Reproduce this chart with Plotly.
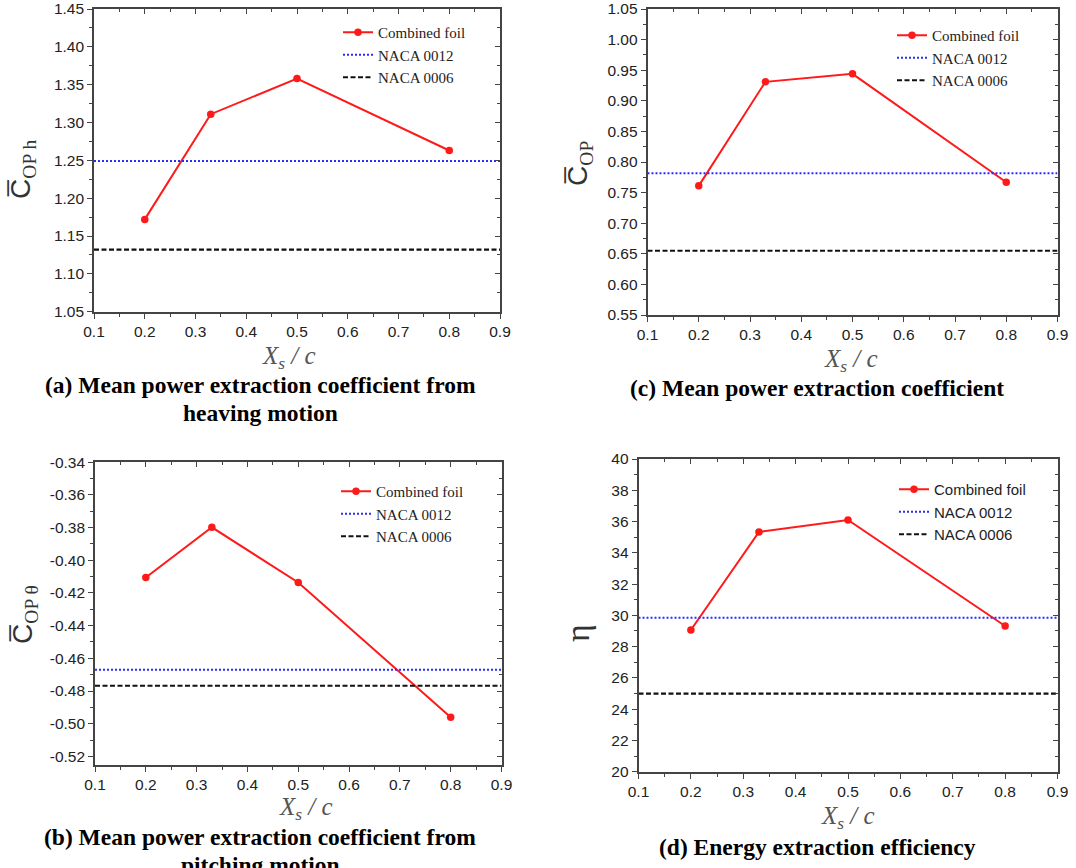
import plotly.graph_objects as go

W, H = 1076, 868

# ---------------- data ----------------
xs_c = [0.2, 0.33, 0.5, 0.8]

cop_h = [1.172, 1.311, 1.358, 1.263]
naca0012_h = 1.249
naca0006_h = 1.132

cop_theta = [-0.4105, -0.3798, -0.4136, -0.4961]
naca0012_theta = -0.467
naca0006_theta = -0.4768

cop = [0.761, 0.931, 0.944, 0.767]
naca0012_cop = 0.7815
naca0006_cop = 0.655

eta = [29.06, 35.33, 36.1, 29.32]
naca0012_eta = 29.85
naca0006_eta = 25.0

x_range = [0.1, 0.9]
x_ticks = [0.1, 0.2, 0.3, 0.4, 0.5, 0.6, 0.7, 0.8, 0.9]
theta_ticks = [-0.34, -0.36, -0.38, -0.40, -0.42, -0.44, -0.46, -0.48, -0.50, -0.52]
theta_ticklabels = ["-0.34", "-0.36", "-0.38", "-0.40", "-0.42", "-0.44",
                    "-0.46", "-0.48", "-0.50", "-0.52"]

legend_names = ["Combined foil", "NACA 0012", "NACA 0006"]

caption_lines = [
    ("(a) Mean power extraction coefficient from", 260, 385),
    ("heaving motion", 260, 413),
    ("(b) Mean power extraction coefficient from", 260, 837),
    ("pitching motion", 260, 865),
    ("(c) Mean power extraction coefficient", 817, 388),
    ("(d) Energy extraction efficiency", 817, 847),
]

# ---------------- layout helpers ----------------
def px_x(p):
    return p / W

def px_y(p):
    return 1 - p / H

AX_COLOR = "#444444"
TICK_FONT = dict(family="Liberation Sans, Arial, sans-serif", size=15.5, color="#222222")

panels = [
    dict(key="a", vals=cop_h, n12=naca0012_h, n6=naca0006_h,
         xd=(94, 500), yd=(9, 311.7), yr=[1.05, 1.45], dt=0.05, mdt=0.025, fmt=".2f",
         leg=(338, 16), legfont="Liberation Serif, Times New Roman, serif"),
    dict(key="b", vals=cop_theta, n12=naca0012_theta, n6=naca0006_theta,
         xd=(95, 501.5), yd=(462.3, 765), yr=[-0.5253, -0.34], dt=None, mdt=0.01, fmt=None,
         leg=(336, 475), legfont="Liberation Serif, Times New Roman, serif"),
    dict(key="c", vals=cop, n12=naca0012_cop, n6=naca0006_cop,
         xd=(647.5, 1057.5), yd=(9, 315), yr=[0.55, 1.05], dt=0.05, mdt=0.025, fmt=".2f",
         leg=(892, 19), legfont="Liberation Serif, Times New Roman, serif"),
    dict(key="d", vals=eta, n12=naca0012_eta, n6=naca0006_eta,
         xd=(638.5, 1057.5), yd=(459, 771.7), yr=[20, 40], dt=2, mdt=1, fmt="d",
         leg=(894, 473), legfont="Liberation Sans, Arial, sans-serif"),
]

fig = go.Figure()
layout = dict(
    width=W, height=H,
    margin=dict(l=0, r=0, t=0, b=0, autoexpand=False),
    paper_bgcolor="white", plot_bgcolor="white",
    showlegend=True,
)

annotations = []

for i, p in enumerate(panels):
    n = i + 1
    ax = "" if n == 1 else str(n)
    mx = str(n + 4)
    xref, yref = "x" + ax, "y" + ax
    legname = "legend" if n == 1 else "legend" + str(n)

    fig.add_trace(go.Scatter(
        x=xs_c, y=p["vals"], mode="lines+markers", name=legend_names[0],
        line=dict(color="#ff1a1a", width=2),
        marker=dict(color="#ff1a1a", size=7.5, symbol="circle"),
        xaxis=xref, yaxis=yref, legend=legname))
    fig.add_trace(go.Scatter(
        x=x_range, y=[p["n12"], p["n12"]], mode="lines", name=legend_names[1],
        line=dict(color="#2a2aff", width=2, dash="2px,2px"),
        xaxis=xref, yaxis=yref, legend=legname))
    fig.add_trace(go.Scatter(
        x=x_range, y=[p["n6"], p["n6"]], mode="lines", name=legend_names[2],
        line=dict(color="#111111", width=2.2, dash="5px,2.5px"),
        xaxis=xref, yaxis=yref, legend=legname))
    fig.add_trace(go.Scatter(x=[None], y=[None], xaxis="x" + mx, yaxis="y" + mx,
                             showlegend=False, hoverinfo="skip"))

    xdom = [px_x(p["xd"][0]), px_x(p["xd"][1])]
    ydom = [px_y(p["yd"][1]), px_y(p["yd"][0])]

    layout["xaxis" + ax] = dict(
        domain=xdom, anchor=yref, range=x_range, tickmode="array", tickvals=x_ticks,
        tickformat=".1f", ticks="outside", ticklen=5, tickwidth=1.3, tickcolor=AX_COLOR,
        showline=True, linecolor=AX_COLOR, linewidth=1.6, mirror=True, automargin=False,
        showgrid=False, zeroline=False, tickfont=TICK_FONT,
        minor=dict(ticks="outside", dtick=0.05, tick0=0.1, ticklen=3, tickcolor=AX_COLOR,
                   tickwidth=1.2, showgrid=False),
    )
    ya = dict(
        domain=ydom, anchor=xref, range=p["yr"], ticks="outside", ticklen=5, tickwidth=1.3,
        tickcolor=AX_COLOR, showline=True, linecolor=AX_COLOR, linewidth=1.6, mirror=True,
        showgrid=False, zeroline=False, tickfont=TICK_FONT, automargin=False,
        minor=dict(ticks="outside", dtick=p["mdt"], ticklen=3, tickcolor=AX_COLOR,
                   tickwidth=1.2, showgrid=False),
    )
    if p["dt"] is None:
        ya.update(tickmode="array", tickvals=theta_ticks, ticktext=theta_ticklabels)
        ya["minor"]["tick0"] = -0.34
    else:
        ya.update(tick0=p["yr"][0], dtick=p["dt"], tickformat=p["fmt"])
        ya["minor"]["tick0"] = p["yr"][0]
    layout["yaxis" + ax] = ya

    layout["xaxis" + mx] = dict(
        overlaying=xref, side="top", anchor="y" + mx, range=x_range,
        tickmode="array", tickvals=x_ticks, showticklabels=False, automargin=False,
        ticks="inside", ticklen=5, tickwidth=1.3, tickcolor=AX_COLOR,
        showline=False, showgrid=False, zeroline=False,
        minor=dict(ticks="inside", dtick=0.05, tick0=0.1, ticklen=3, tickcolor=AX_COLOR,
                   tickwidth=1.2, showgrid=False),
    )
    ym = dict(
        overlaying=yref, side="right", anchor="x" + mx, range=p["yr"], automargin=False,
        showticklabels=False, ticks="inside", ticklen=5, tickwidth=1.3, tickcolor=AX_COLOR,
        showline=False, showgrid=False, zeroline=False,
        minor=dict(ticks="inside", dtick=p["mdt"], ticklen=3, tickcolor=AX_COLOR,
                   tickwidth=1.2, showgrid=False),
    )
    if p["dt"] is None:
        ym.update(tickmode="array", tickvals=theta_ticks)
        ym["minor"]["tick0"] = -0.34
    else:
        ym.update(tick0=p["yr"][0], dtick=p["dt"])
        ym["minor"]["tick0"] = p["yr"][0]
    layout["yaxis" + mx] = ym

    layout[legname] = dict(
        x=px_x(p["leg"][0]), y=px_y(p["leg"][1]), xanchor="left", yanchor="top",
        bgcolor="rgba(0,0,0,0)", borderwidth=0,
        font=dict(family=p["legfont"], size=15, color="#222222"),
        tracegroupgap=0, itemwidth=30,
    )

# x-axis titles
xtitle = "<i>X<sub>s</sub> / c</i>"
for cx, cy in [(289, 357), (851, 360), (306, 808), (848, 817)]:
    annotations.append(dict(
        text=xtitle, x=px_x(cx), y=px_y(cy), xref="paper", yref="paper",
        xanchor="center", yanchor="middle", showarrow=False,
        font=dict(family="Liberation Serif, Times New Roman, serif", size=25, color="#555555")))

# y-axis titles
ytitles = [
    ("C\u0305<sub><span style='font-family:Liberation Serif'>OP h</span></sub>", 22, 170),
    ("C\u0305<sub><span style='font-family:Liberation Serif'>OP \u03b8</span></sub>", 24, 615),
    ("C\u0305<sub><span style='font-family:Liberation Serif'>OP</span></sub>", 580, 164),
]
for t, cx, cy in ytitles:
    annotations.append(dict(
        text=t, x=px_x(cx), y=px_y(cy), xref="paper", yref="paper", textangle=-90,
        xanchor="center", yanchor="middle", showarrow=False,
        font=dict(family="Liberation Sans, Arial, sans-serif", size=28, color="#333333")))
annotations.append(dict(
    text="\u03b7", x=px_x(577), y=px_y(633), xref="paper", yref="paper", textangle=-90,
    xanchor="center", yanchor="middle", showarrow=False,
    font=dict(family="Liberation Serif, Times New Roman, serif", size=34, color="#333333")))

# captions
for txt, cx, cy in caption_lines:
    annotations.append(dict(
        text="<b>" + txt + "</b>", x=px_x(cx), y=px_y(cy), xref="paper", yref="paper",
        xanchor="center", yanchor="middle", showarrow=False, align="center",
        font=dict(family="Liberation Serif, Times New Roman, serif", size=23.5, color="#000000")))

layout["annotations"] = annotations
fig.update_layout(**layout)
fig.write_html("out.html", config={"displayModeBar": False},
               post_script="document.body.style.margin='0';document.body.style.overflow='hidden';")
